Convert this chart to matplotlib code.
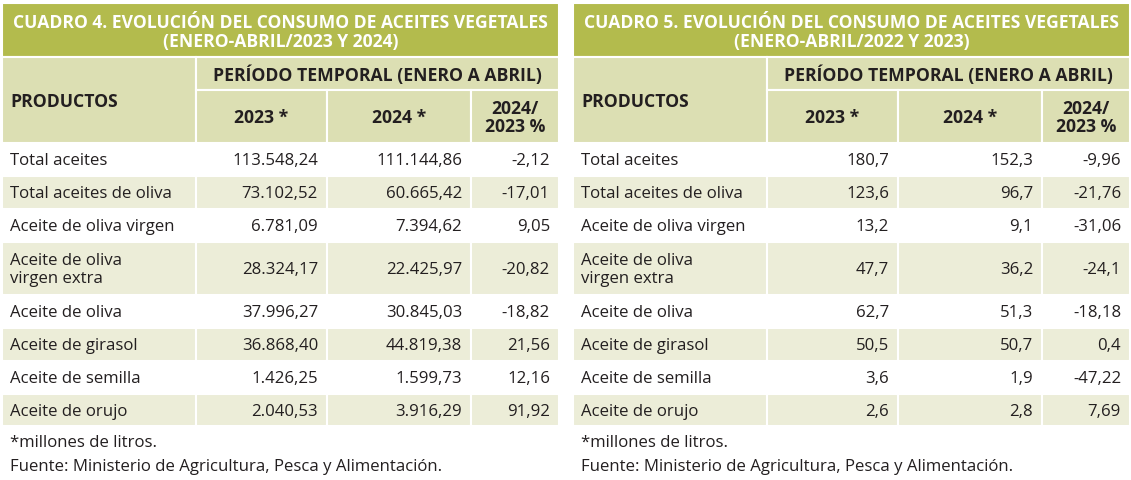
import matplotlib
matplotlib.use("Agg")
import matplotlib.pyplot as plt
from matplotlib.patches import Rectangle

# datos
productos = ["Total aceites", "Total aceites de oliva", "Aceite de oliva virgen",
             "Aceite de oliva\nvirgen extra", "Aceite de oliva", "Aceite de girasol",
             "Aceite de semilla", "Aceite de orujo"]

c4_2023 = [113548.24, 73102.52, 6781.09, 28324.17, 37996.27, 36868.40, 1426.25, 2040.53]
c4_2024 = [111144.86, 60665.42, 7394.62, 22425.97, 30845.03, 44819.38, 1599.73, 3916.29]
c4_pct = [-2.12, -17.01, 9.05, -20.82, -18.82, 21.56, 12.16, 91.92]

c5_2023 = [180.7, 123.6, 13.2, 47.7, 62.7, 50.5, 3.6, 2.6]
c5_2024 = [152.3, 96.7, 9.1, 36.2, 51.3, 50.7, 1.9, 2.8]
c5_pct = [-9.96, -21.76, -31.06, -24.1, -18.18, 0.4, -47.22, 7.69]

titulo4 = "CUADRO 4. EVOLUCIÓN DEL CONSUMO DE ACEITES VEGETALES\n(ENERO-ABRIL/2023 Y 2024)"
titulo5 = "CUADRO 5. EVOLUCIÓN DEL CONSUMO DE ACEITES VEGETALES\n(ENERO-ABRIL/2022 Y 2023)"
notas = ["*millones de litros.", "Fuente: Ministerio de Agricultura, Pesca y Alimentación."]

VERDE = "#b3bb4d"
CABECERA = "#dcdfb3"
SOMBRA = "#ecedd8"
TEXTO = "#231f20"
FUENTE = "Open Sans"


def fmt(v, dec, quitar_ceros=False):
    s = f"{v:,.{dec}f}"
    if quitar_ceros and "." in s:
        s = s.rstrip("0").rstrip(".")
    return s.replace(",", "X").replace(".", ",").replace("X", ".")


fig = plt.figure(figsize=(11.31, 4.8), dpi=100)
ax = fig.add_axes([0, 0, 1, 1])
ax.set_xlim(0, 1131)
ax.set_ylim(480, 0)
ax.axis("off")

filas = [143, 176, 209, 242, 295, 328, 361, 394, 426]


def tabla(x0, titulo, v1, v2, pct, dec_val, quitar):
    ancho = 557
    cols = [x0, x0 + 194, x0 + 325, x0 + 469, x0 + ancho]
    ec = dict(edgecolor="white", linewidth=1.5)
    ax.add_patch(Rectangle((x0, 3), ancho, 54, facecolor=VERDE, **ec))
    ax.text(x0 + ancho / 2, 32.5, titulo, ha="center", va="center", color="white",
            fontsize=12.6, fontweight="bold", family=FUENTE, linespacing=1.0)
    # cabecera
    ax.add_patch(Rectangle((cols[0], 57), cols[1] - cols[0], 86, facecolor=CABECERA, **ec))
    ax.add_patch(Rectangle((cols[1], 57), cols[4] - cols[1], 33, facecolor=CABECERA, **ec))
    for i in range(1, 4):
        ax.add_patch(Rectangle((cols[i], 90), cols[i + 1] - cols[i], 53, facecolor=CABECERA, **ec))
    kw = dict(color=TEXTO, fontsize=12.7, fontweight="bold", family=FUENTE)
    ax.text(x0 + 8, 102, "PRODUCTOS", ha="left", va="center", **kw)
    ax.text((cols[1] + cols[4]) / 2, 75, "PERÍODO TEMPORAL (ENERO A ABRIL)", ha="center", va="center", **kw)
    ax.text((cols[1] + cols[2]) / 2, 118, "2023 *", ha="center", va="center", **kw)
    ax.text((cols[2] + cols[3]) / 2, 118, "2024 *", ha="center", va="center", **kw)
    ax.text((cols[3] + cols[4]) / 2, 118, "2024/\n2023 %", ha="center", va="center",
            linespacing=1.0, **kw)
    # filas
    for i, prod in enumerate(productos):
        y0, y1 = filas[i], filas[i + 1]
        yc = (y0 + y1) / 2 + 1.5
        if i % 2 == 1:
            for j in range(4):
                ax.add_patch(Rectangle((cols[j], y0), cols[j + 1] - cols[j], y1 - y0,
                                       facecolor=SOMBRA, **ec))
        tk = dict(color=TEXTO, fontsize=12.1, family=FUENTE, va="center")
        ax.text(x0 + 8, yc, prod, ha="left", linespacing=1.2, **tk)
        ax.text(cols[2] - 9, yc, fmt(v1[i], dec_val), ha="right", **tk)
        ax.text(cols[3] - 9, yc, fmt(v2[i], dec_val), ha="right", **tk)
        ax.text(cols[4] - 9, yc, fmt(pct[i], 2, quitar), ha="right", **tk)
    for k, nota in enumerate(notas):
        ax.text(x0 + 8, 443 + k * 24, nota, ha="left", va="center", color=TEXTO,
                fontsize=12.1, family=FUENTE)


tabla(2, titulo4, c4_2023, c4_2024, c4_pct, 2, False)
tabla(573, titulo5, c5_2023, c5_2024, c5_pct, 1, True)

fig.savefig("out.png", dpi=100)
